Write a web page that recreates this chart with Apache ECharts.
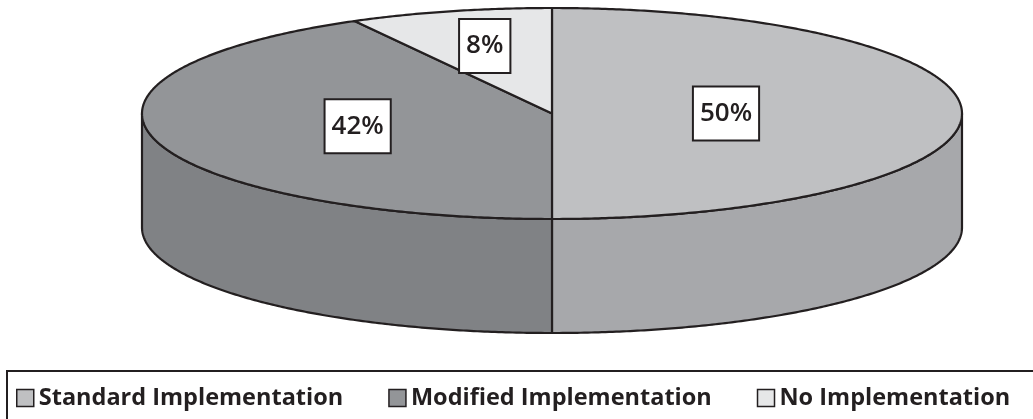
<!DOCTYPE html>
<html>
<head>
<meta charset="utf-8">
<script src="https://cdn.jsdelivr.net/npm/echarts@6/dist/echarts.min.js"></script>
<style>
  html, body { margin: 0; padding: 0; background: #ffffff; }
  #chart { width: 1033px; height: 419px; }
</style>
</head>
<body>
<div id="chart"></div>
<script>
// Share of sites by implementation type
const categories = ['Standard Implementation', 'Modified Implementation', 'No Implementation'];
const shares = [50, 42, 8];

// Face colours: top surface and front wall of each slice
const topColors = ['#bfc0c2', '#939598', '#e6e7e8'];
const sideColors = ['#a7a8ab', '#808285', '#c9cacc'];
const INK = '#231f20';

// Tilted pie geometry (ellipse of the top face and wall height)
const PIE = { cx: 552, cy: 113.5, rx: 410, ry: 105.5, depth: 114 };

const total = shares.reduce((a, b) => a + b, 0);

// angle in degrees, clockwise from 12 o'clock
function pt(deg, dy) {
  const r = deg * Math.PI / 180;
  return [PIE.cx + PIE.rx * Math.sin(r), PIE.cy - PIE.ry * Math.cos(r) + (dy || 0)];
}
function arc(a, b, dy) {
  const steps = Math.max(2, Math.ceil(Math.abs(b - a) * 2));
  const out = [];
  for (let i = 0; i <= steps; i++) out.push(pt(a + (b - a) * i / steps, dy));
  return out;
}

function makeRenderer(idx) {
  return function (params, api) {
    const before = shares.slice(0, idx).reduce((a, b) => a + b, 0);
    const start = before / total * 360;
    const end = start + api.value(0) / total * 360;
    const children = [];

    // front wall, visible only on the near half of the rim
    const s = Math.max(start, 90), e = Math.min(end, 270);
    if (e > s) {
      children.push({
        type: 'polygon',
        shape: { points: arc(s, e, 0).concat(arc(e, s, PIE.depth)) },
        style: { fill: sideColors[idx], stroke: INK, lineWidth: 2.2, lineJoin: 'round' },
        z2: 1
      });
    }

    // top face
    children.push({
      type: 'polygon',
      shape: { points: [[PIE.cx, PIE.cy]].concat(arc(start, end, 0)) },
      style: { fill: topColors[idx], stroke: INK, lineWidth: 2.2, lineJoin: 'round' },
      z2: 2
    });

    // value label at the centroid of the slice's top face
    const mid = (start + end) / 2 * Math.PI / 180;
    const half = (end - start) / 2 * Math.PI / 180;
    const k = 2 * Math.sin(half) / (3 * half);
    children.push({
      type: 'text',
      x: PIE.cx + k * PIE.rx * Math.sin(mid),
      y: PIE.cy - k * PIE.ry * Math.cos(mid),
      style: {
        text: Math.round(api.value(0) / total * 100) + '%',
        fill: INK,
        fontFamily: 'Open Sans',
        fontWeight: 600,
        fontSize: 26,
        lineHeight: 28,
        align: 'center',
        verticalAlign: 'middle',
        backgroundColor: '#ffffff',
        borderColor: INK,
        borderWidth: 2,
        padding: [12, 6, 12, 6]
      },
      z2: 100
    });

    return { type: 'group', children: children };
  };
}

const chart = echarts.init(document.getElementById('chart'), null, { renderer: 'canvas' });

chart.setOption({
  animation: false,
  backgroundColor: '#ffffff',
  legend: {
    data: categories,
    left: 7,
    top: 371,
    width: 1300,
    orient: 'horizontal',
    icon: 'rect',
    itemWidth: 17,
    itemHeight: 17,
    itemGap: 45,
    padding: [15, 150, 60, 9],
    borderColor: INK,
    borderWidth: 2,
    itemStyle: { borderColor: INK, borderWidth: 1.5 },
    textStyle: { fontFamily: 'Open Sans', fontWeight: 'bold', fontSize: 23.5, color: INK }
  },
  series: categories.map((name, i) => ({
    type: 'custom',
    name: name,
    coordinateSystem: 'none',
    itemStyle: { color: topColors[i] },
    data: [[shares[i]]],
    renderItem: makeRenderer(i)
  }))
});
</script>
</body>
</html>
